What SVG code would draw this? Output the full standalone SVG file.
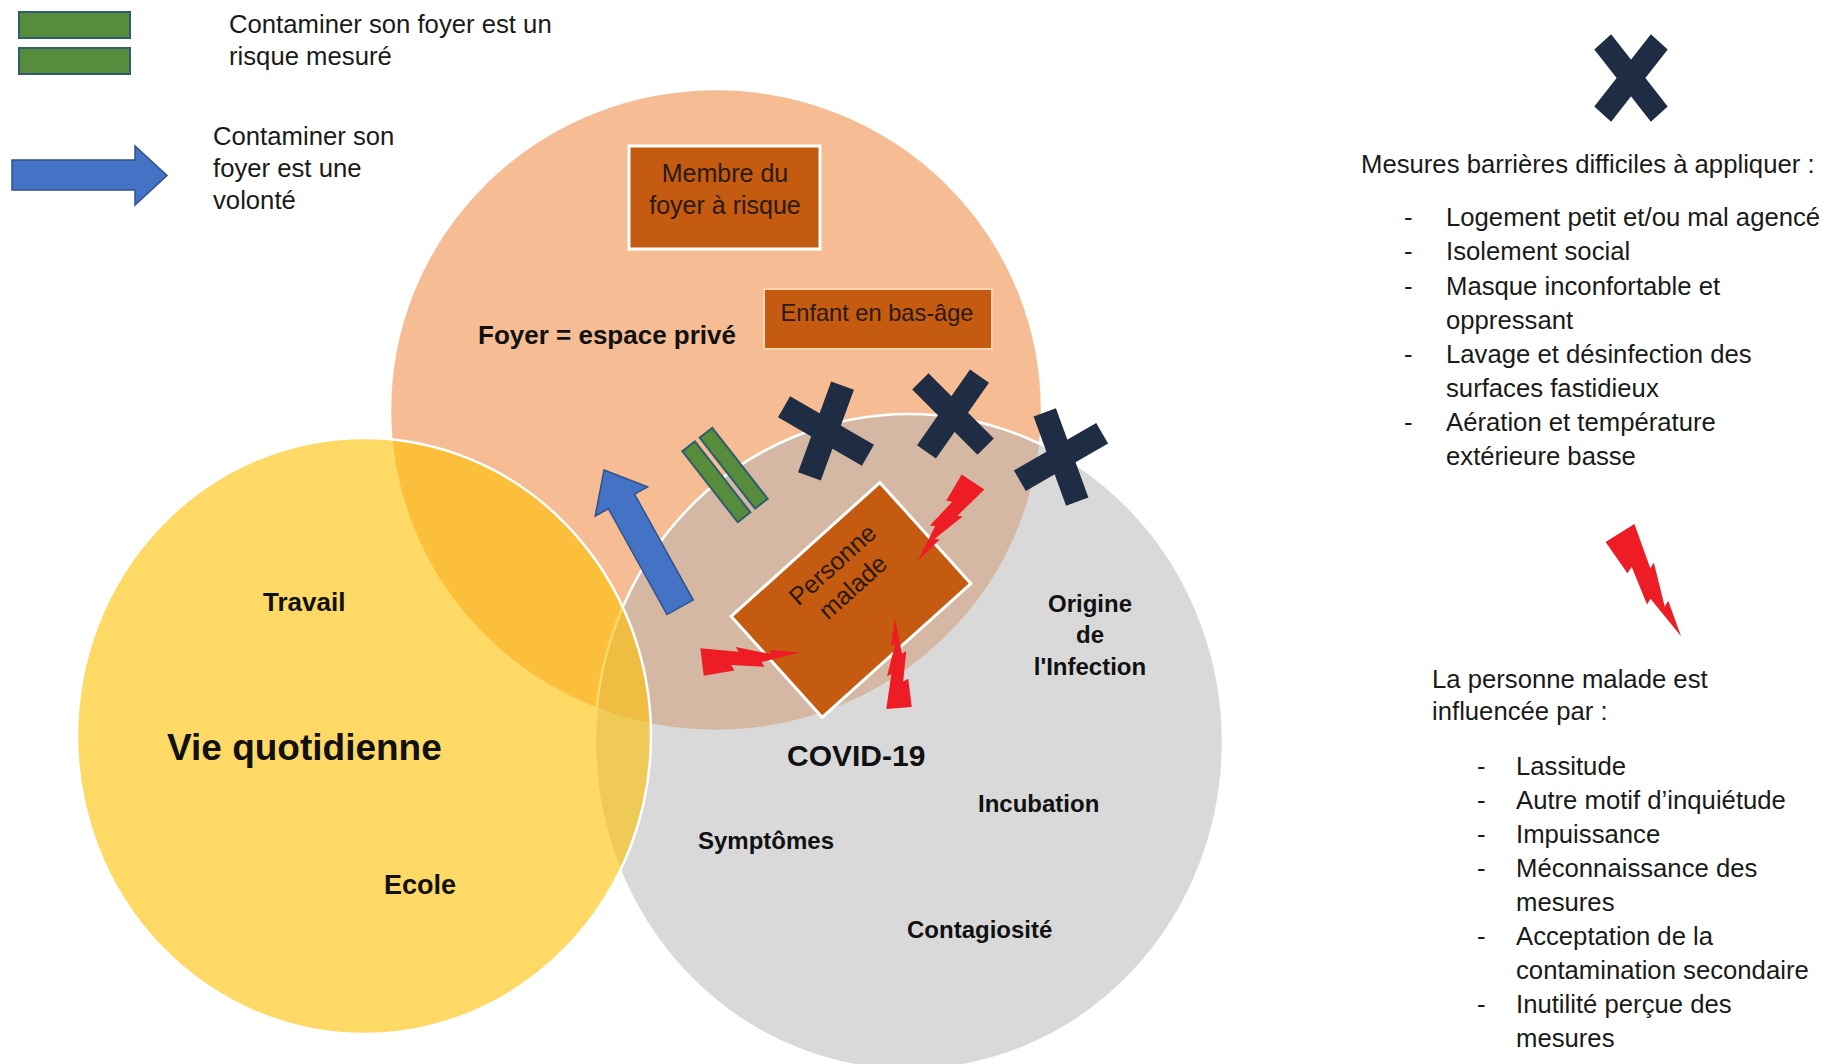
<svg xmlns="http://www.w3.org/2000/svg" width="1843" height="1064" viewBox="0 0 1843 1064">
<style>
  text { font-family: "Liberation Sans", Arial, sans-serif; fill: #1a1a1a; }
  .t26 { font-size: 25.7px; }
  .lbl { font-size: 24px; font-weight: bold; fill: #111; }
  .box { fill: #C55A11; stroke: #ffffff; stroke-width: 3; }
  .boxt { font-size: 25px; fill: #2a1a10; text-anchor: middle; }
  .xm { fill: #1f2d44; }
  .bolt { fill: #ee1c25; }
  .blue { fill: #4472C4; stroke: #2F528F; stroke-width: 1.5; }
  .green { fill: #568C3C; stroke: #2f5c70; stroke-width: 2; }
</style>
<defs>
  <g id="xmark">
    <rect x="-44" y="-11" width="88" height="22" transform="rotate(50)"/>
    <rect x="-44" y="-11" width="88" height="22" transform="rotate(-50)"/>
  </g>
  <path id="boltshape" d="M0,-17 L46,-7 L43,-13 L86,1 L83,-5 L120,3 L72,9 L75,15 L35,8 L38,15 L0,17 Z"/>
</defs>
<rect width="1843" height="1064" fill="#ffffff"/>

<!-- Venn circles -->
<g id="circle-foyer">
  <ellipse cx="716" cy="410" rx="326" ry="321" fill="#F4B183" fill-opacity="0.85" stroke="#ffffff" stroke-width="2.5"/>
</g>
<g id="circle-covid">
  <ellipse cx="909" cy="742" rx="314" ry="328" fill="#B4B4B4" fill-opacity="0.5" stroke="#ffffff" stroke-width="2.5"/>
</g>
<g id="circle-vie">
  <ellipse cx="364" cy="736" rx="287" ry="298" fill="#FFC000" fill-opacity="0.6" stroke="#ffffff" stroke-width="2.5"/>
</g>

<!-- Legend -->
<g id="legend-risque">
  <rect x="19" y="12" width="111" height="26" class="green"/>
  <rect x="19" y="48" width="111" height="26" class="green"/>
  <text class="t26" x="229" y="33">Contaminer son foyer est un</text>
  <text class="t26" x="229" y="65">risque mesuré</text>
</g>
<g id="legend-volonte">
  <polygon class="blue" points="12,160 135,160 135,146 167,175.5 135,205 135,190 12,190"/>
  <text class="t26" x="213" y="145">Contaminer son</text>
  <text class="t26" x="213" y="177">foyer est une</text>
  <text class="t26" x="213" y="209">volonté</text>
</g>
<g id="legend-barrieres">
  <use href="#xmark" class="xm" transform="translate(1631,78) scale(1,1.07)"/>
  <text class="t26" x="1361" y="173">Mesures barrières difficiles à appliquer :</text>
  <g class="t26">
    <text x="1404" y="226">-</text><text x="1446" y="226">Logement petit et/ou mal agencé</text>
    <text x="1404" y="260">-</text><text x="1446" y="260">Isolement social</text>
    <text x="1404" y="295">-</text><text x="1446" y="295">Masque inconfortable et</text>
    <text x="1446" y="329">oppressant</text>
    <text x="1404" y="363">-</text><text x="1446" y="363">Lavage et désinfection des</text>
    <text x="1446" y="397">surfaces fastidieux</text>
    <text x="1404" y="431">-</text><text x="1446" y="431">Aération et température</text>
    <text x="1446" y="465">extérieure basse</text>
  </g>
</g>
<g id="legend-influence">
  <use href="#boltshape" class="bolt" transform="translate(1620,533) rotate(58)"/>
  <text class="t26" x="1432" y="688">La personne malade est</text>
  <text class="t26" x="1432" y="720">influencée par :</text>
  <g class="t26">
    <text x="1477" y="775">-</text><text x="1516" y="775">Lassitude</text>
    <text x="1477" y="809">-</text><text x="1516" y="809">Autre motif d’inquiétude</text>
    <text x="1477" y="843">-</text><text x="1516" y="843">Impuissance</text>
    <text x="1477" y="877">-</text><text x="1516" y="877">Méconnaissance des</text>
    <text x="1516" y="911">mesures</text>
    <text x="1477" y="945">-</text><text x="1516" y="945">Acceptation de la</text>
    <text x="1516" y="979">contamination secondaire</text>
    <text x="1477" y="1013">-</text><text x="1516" y="1013">Inutilité perçue des</text>
    <text x="1516" y="1047">mesures</text>
  </g>
</g>

<!-- Venn labels -->
<g id="label-foyer"><text x="478" y="344" style="font-size:26px;font-weight:bold;fill:#111">Foyer = espace privé</text></g>
<g id="label-vie">
  <text x="263" y="611" style="font-size:26px;font-weight:bold;fill:#111">Travail</text>
  <text x="167" y="760" style="font-size:37px;font-weight:bold;fill:#111">Vie quotidienne</text>
  <text x="384" y="894" style="font-size:27px;font-weight:bold;fill:#111">Ecole</text>
</g>
<g id="label-covid">
  <text x="787" y="766" style="font-size:30px;font-weight:bold;fill:#111">COVID-19</text>
  <text class="lbl" x="1090" y="612" text-anchor="middle">Origine</text>
  <text class="lbl" x="1090" y="643" text-anchor="middle">de</text>
  <text class="lbl" x="1090" y="675" text-anchor="middle">l'Infection</text>
  <text class="lbl" x="978" y="812">Incubation</text>
  <text class="lbl" x="698" y="849">Symptômes</text>
  <text class="lbl" x="907" y="938">Contagiosité</text>
</g>

<!-- Boxes -->
<g id="node-membre">
  <rect class="box" x="629" y="146" width="191" height="103"/>
  <text class="boxt" x="725" y="182">Membre du</text>
  <text class="boxt" x="725" y="214">foyer à risque</text>
</g>
<g id="node-enfant">
  <rect x="764" y="289" width="228" height="60" fill="#C55A11" stroke="#f7d3b0" stroke-width="2"/>
  <text x="877" y="321" style="font-size:23.6px;fill:#2a1a10;text-anchor:middle">Enfant en bas-âge</text>
</g>

<!-- Symbols in the Venn -->
<g id="connectors">
  <polygon class="blue" transform="translate(604,470) rotate(-29)" points="0,0 30,36 15,36 15,157 -15,157 -15,36 -30,36"/>
  <g transform="translate(725,475) rotate(52)">
    <rect class="green" x="-45" y="-19" width="90" height="16"/>
    <rect class="green" x="-45" y="3" width="90" height="16"/>
  </g>
</g>

<g id="node-personne">
  <g transform="translate(851,600) rotate(-42)">
    <rect class="box" x="-100" y="-68" width="200" height="136"/>
    <text class="boxt" x="10" y="-30">Personne</text>
    <text class="boxt" x="10" y="0">malade</text>
  </g>
</g>

<g id="barriers">
  <use href="#xmark" class="xm" transform="translate(826,431) rotate(-20) scale(1.1)"/>
  <use href="#xmark" class="xm" transform="translate(953,414) rotate(-5) scale(1.05)"/>
  <use href="#xmark" class="xm" transform="translate(1061,457) rotate(20) scale(1.08)"/>
</g>

<g id="bolts">
  <use href="#boltshape" class="bolt" transform="translate(973,482) rotate(123.5) scale(0.8)"/>
  <use href="#boltshape" class="bolt" transform="translate(702,662) rotate(-7) scale(0.82)"/>
  <use href="#boltshape" class="bolt" transform="translate(899,708) rotate(-94) scale(0.75)"/>
</g>
</svg>
